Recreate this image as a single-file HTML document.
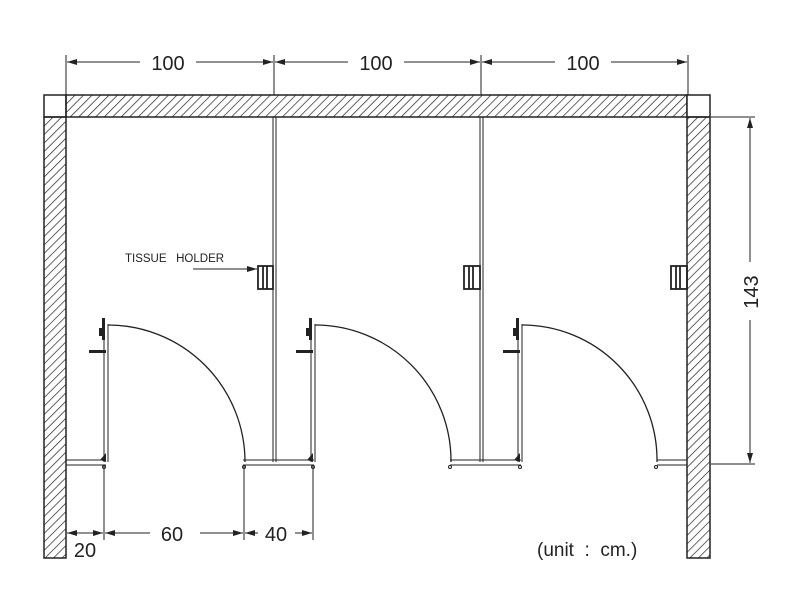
<!DOCTYPE html>
<html><head><style>body{margin:0;background:#fff}svg{display:block}text{font-family:"Liberation Sans",sans-serif;fill:#222}</style></head><body>
<svg width="801" height="610" viewBox="0 0 801 610" xmlns="http://www.w3.org/2000/svg">
<defs>
<pattern id="h" patternUnits="userSpaceOnUse" width="6" height="6" patternTransform="rotate(45)">
<line x1="0" y1="0" x2="0" y2="6" stroke="#222" stroke-width="1.4"/></pattern>
<marker id="a" markerWidth="10" markerHeight="6" refX="10" refY="3" orient="auto" markerUnits="userSpaceOnUse"><path d="M0,0 L10,3 L0,6z" fill="#222"/></marker>
</defs>
<g stroke="#222" stroke-width="1.5">
<rect x="44" y="95" width="22" height="22" fill="#fff"/>
<rect x="66" y="95" width="621" height="22" fill="url(#h)"/>
<rect x="687" y="95" width="23" height="22" fill="#fff"/>
<rect x="44" y="117" width="22" height="441" fill="url(#h)"/>
<rect x="687" y="117" width="23" height="441" fill="url(#h)"/>
</g>
<g stroke="#222" stroke-width="1" fill="none">
<line x1="66" y1="55" x2="66" y2="95"/><line x1="274" y1="55" x2="274" y2="95"/><line x1="481" y1="55" x2="481" y2="95"/><line x1="688" y1="55" x2="688" y2="95"/>
<line x1="140" y1="62" x2="67" y2="62" marker-end="url(#a)"/><line x1="196" y1="62" x2="273" y2="62" marker-end="url(#a)"/>
<line x1="348" y1="62" x2="275" y2="62" marker-end="url(#a)"/><line x1="404" y1="62" x2="480" y2="62" marker-end="url(#a)"/>
<line x1="555" y1="62" x2="482" y2="62" marker-end="url(#a)"/><line x1="611" y1="62" x2="687" y2="62" marker-end="url(#a)"/>
<line x1="711" y1="117" x2="755" y2="117"/><line x1="711" y1="464" x2="755" y2="464"/>
<line x1="750" y1="262" x2="750" y2="118" marker-end="url(#a)"/><line x1="750" y1="320" x2="750" y2="463" marker-end="url(#a)"/>
<line x1="104" y1="466" x2="104" y2="540"/><line x1="244" y1="466" x2="244" y2="540"/><line x1="313" y1="466" x2="313" y2="540"/>
<line x1="70" y1="533" x2="103" y2="533" marker-end="url(#a)"/><line x1="100" y1="533" x2="67" y2="533" marker-end="url(#a)"/>
<line x1="150" y1="533" x2="105" y2="533" marker-end="url(#a)"/><line x1="200" y1="533" x2="243" y2="533" marker-end="url(#a)"/>
<line x1="258" y1="533" x2="245" y2="533" marker-end="url(#a)"/><line x1="295" y1="533" x2="312" y2="533" marker-end="url(#a)"/>
<line x1="273" y1="117" x2="273" y2="462"/><line x1="276" y1="117" x2="276" y2="462"/>
<line x1="480" y1="117" x2="480" y2="462"/><line x1="483" y1="117" x2="483" y2="462"/>
<path d="M66 460H106M66 465H106M243 460H314M243 465H314M450 460H521M450 465H521M657 460H687M657 465H687"/>
<path d="M104 324V462M108 324V462M311 324V462M315 324V462M518 324V462M522 324V462"/>
<path d="M108 325 A137 137 0 0 1 245 462" stroke-width="1.3"/>
<path d="M315 325 A136 136 0 0 1 451 462" stroke-width="1.3"/>
<path d="M522 325 A135 135 0 0 1 657 462" stroke-width="1.3"/>
<g stroke-width="1.8">
<rect x="258" y="266" width="15" height="23"/><path d="M263 266V289M267 266V289"/>
<rect x="464" y="266" width="16" height="23"/><path d="M469 266V289M473 266V289"/>
<rect x="671" y="266" width="16" height="23"/><path d="M676 266V289M680 266V289"/>
</g>
<line x1="193" y1="269" x2="257" y2="269" marker-end="url(#a)"/>
<circle cx="104" cy="467" r="1.5"/><circle cx="244" cy="467" r="1.5"/><circle cx="313" cy="467" r="1.5"/><circle cx="450" cy="467" r="1.5"/><circle cx="520" cy="467" r="1.5"/><circle cx="656" cy="467" r="1.5"/>
</g>
<g fill="#222">
<rect x="102" y="318" width="3" height="22"/><rect x="89" y="350" width="17" height="3"/><rect x="99" y="328" width="4" height="8"/>
<rect x="309" y="318" width="3" height="22"/><rect x="296" y="350" width="17" height="3"/><rect x="306" y="328" width="4" height="8"/>
<rect x="516" y="318" width="3" height="22"/><rect x="503" y="350" width="17" height="3"/><rect x="513" y="328" width="4" height="8"/>
<path d="M100 460L106 453V462Z"/><path d="M307 460L313 453V462Z"/><path d="M514 460L520 453V462Z"/>
</g>
<text x="168" y="70" font-size="20" text-anchor="middle">100</text>
<text x="376" y="70" font-size="20" text-anchor="middle">100</text>
<text x="583" y="70" font-size="20" text-anchor="middle">100</text>
<text x="0" y="0" font-size="20" text-anchor="middle" transform="translate(758,292) rotate(-90)">143</text>
<text x="85" y="557" font-size="20" text-anchor="middle">20</text>
<text x="172" y="541" font-size="20" text-anchor="middle">60</text>
<text x="276" y="541" font-size="20" text-anchor="middle">40</text>
<text x="537" y="556" font-size="19" xml:space="preserve">(unit  :  cm.)</text>
<text x="125" y="262" font-size="11.5" xml:space="preserve">TISSUE   HOLDER</text>
</svg>
</body></html>
